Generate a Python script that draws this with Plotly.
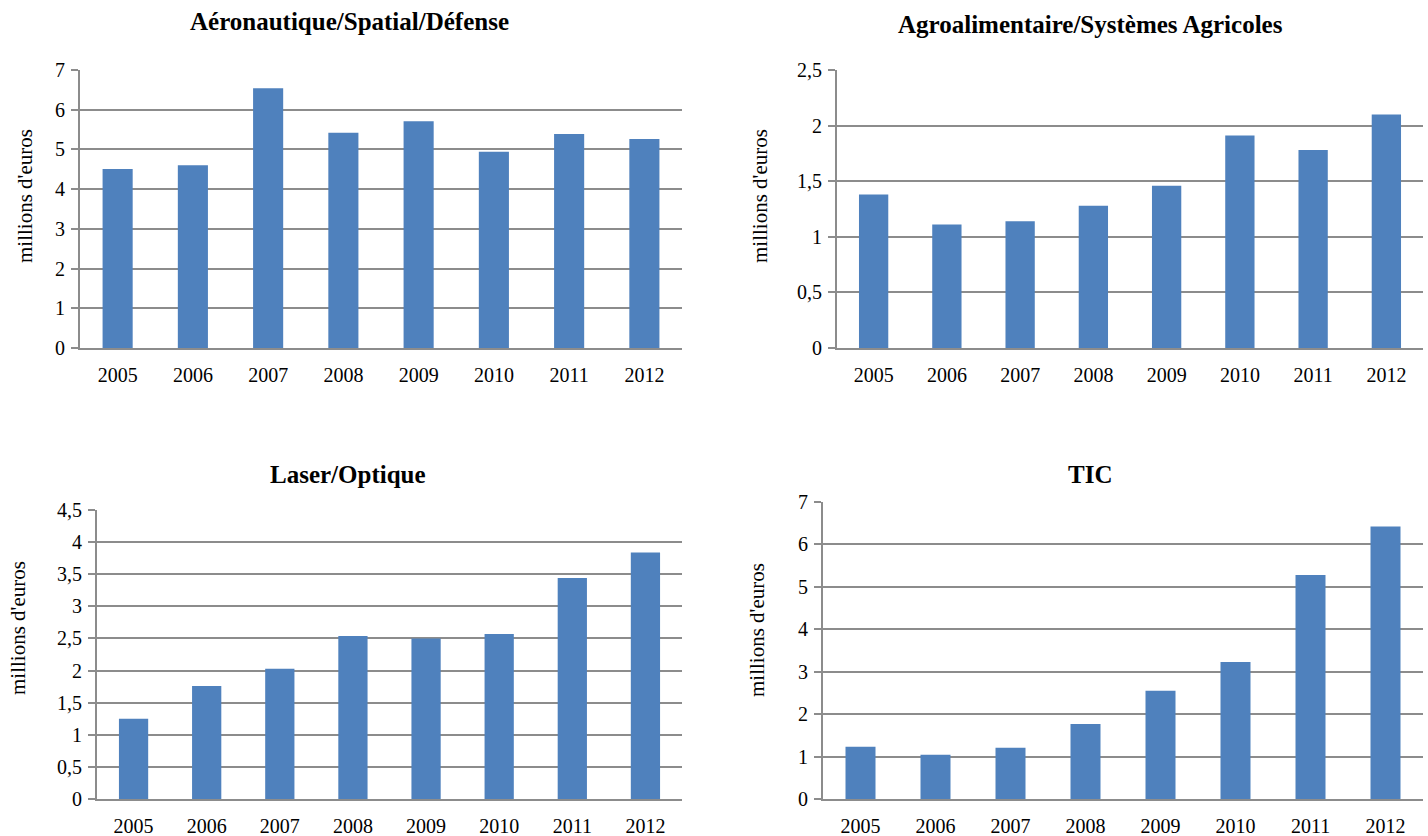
import plotly.graph_objects as go

years = ["2005", "2006", "2007", "2008", "2009", "2010", "2011", "2012"]
aero = [4.51, 4.60, 6.54, 5.42, 5.71, 4.94, 5.39, 5.26]
agro = [1.38, 1.11, 1.14, 1.28, 1.46, 1.91, 1.78, 2.10]
laser = [1.25, 1.76, 2.03, 2.54, 2.50, 2.57, 3.44, 3.84]
tic = [1.23, 1.04, 1.21, 1.77, 2.55, 3.23, 5.28, 6.42]

titles = ["Aéronautique/Spatial/Défense", "Agroalimentaire/Systèmes Agricoles",
          "Laser/Optique", "TIC"]
ytitle = "millions d'euros"
series = [aero, agro, laser, tic]
yranges = [(0, 7, 1), (0, 2.5, 0.5), (0, 4.5, 0.5), (0, 7, 1)]

W, H = 1428, 836
# plot areas in pixels: x0, x1, ytop, ybottom
areas = [(80, 682, 70, 348), (837, 1423, 70, 348),
         (97, 682, 510, 799), (823, 1423, 502, 799)]
title_pos = [(349, 22), (1090, 24), (348, 474), (1090, 474)]
ytitle_pos = [(25, 196), (760, 196), (18, 628), (757, 630)]

BLUE = "#4F81BD"
GRID = "#8c8c8c"
FONT = "Liberation Serif"

fig = go.Figure()
layout = dict(width=W, height=H, margin=dict(l=0, r=0, t=0, b=0, pad=0),
              paper_bgcolor="white", plot_bgcolor="white", showlegend=False,
              separators=", ", bargap=0.6,
              font=dict(family=FONT, color="black", size=20))
annotations = []
for i, (vals, (x0, x1, yt, yb), (r0, r1, dt)) in enumerate(zip(series, areas, yranges)):
    n = "" if i == 0 else str(i + 1)
    fig.add_trace(go.Bar(x=years, y=vals, marker=dict(color=BLUE, line=dict(width=0)),
                         xaxis="x" + n, yaxis="y" + n, width=0.4))
    layout["xaxis" + n] = dict(domain=[x0 / W, x1 / W], anchor="y" + n, type="category",
                               showline=True, linecolor=GRID, linewidth=2, ticks="",
                               showgrid=False, ticklabelstandoff=8, automargin=False,
                               tickfont=dict(family=FONT, size=20))
    layout["yaxis" + n] = dict(domain=[1 - yb / H, 1 - yt / H], anchor="x" + n,
                               range=[r0, r1], dtick=dt, tick0=0, automargin=False,
                               showline=True, linecolor=GRID, linewidth=2,
                               showgrid=True, gridcolor=GRID, gridwidth=2,
                               ticks="outside", ticklen=7, tickcolor=GRID, tickwidth=2,
                               zeroline=False, ticklabelstandoff=2,
                               tickfont=dict(family=FONT, size=20))
    tx, ty = title_pos[i]
    annotations.append(dict(text="<b>" + titles[i] + "</b>", x=tx / W, y=1 - ty / H,
                            xref="paper", yref="paper", xanchor="center", yanchor="middle",
                            showarrow=False, font=dict(family=FONT, size=25)))
    ax, ay = ytitle_pos[i]
    annotations.append(dict(text=ytitle, x=ax / W, y=1 - ay / H, textangle=-90,
                            xref="paper", yref="paper", xanchor="center", yanchor="middle",
                            showarrow=False, font=dict(family=FONT, size=21)))
layout["annotations"] = annotations
fig.update_layout(**layout)
fig.write_html("out.html", config={"displayModeBar": False},
               post_script="document.body.style.margin='0';document.body.style.overflow='hidden';")
